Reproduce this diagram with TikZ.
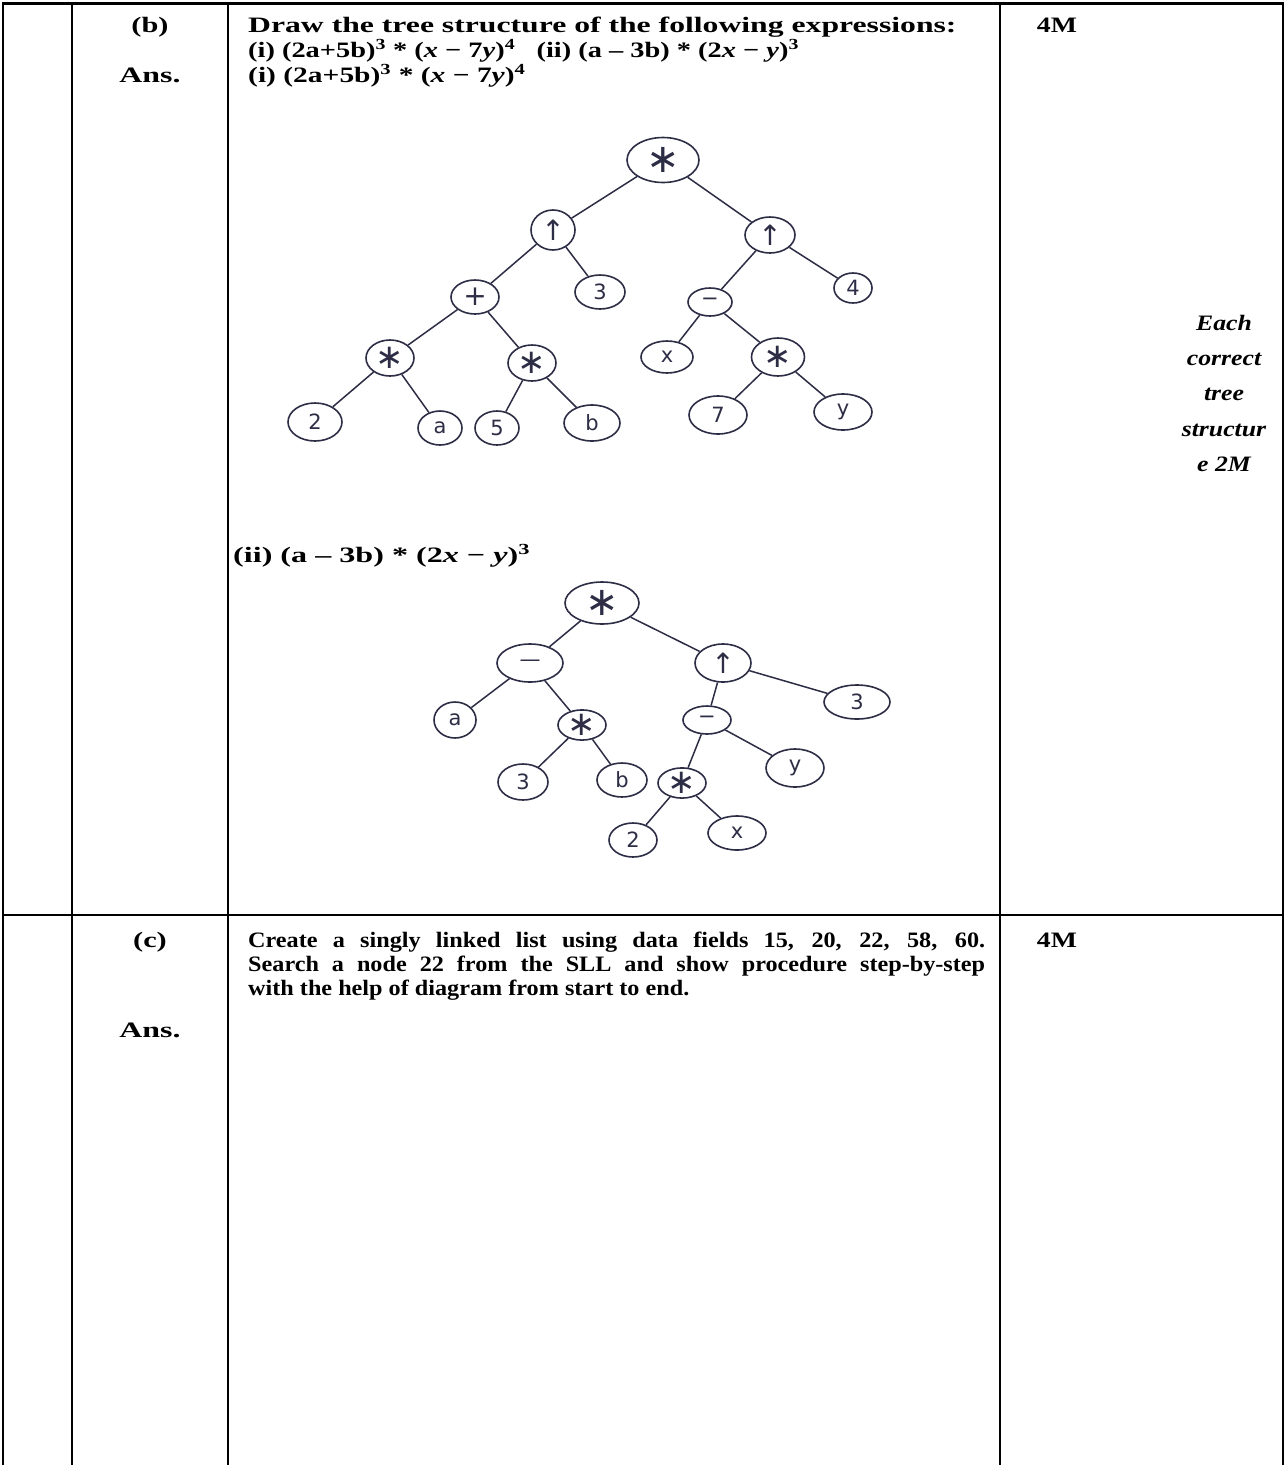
\documentclass[tikz,border=0pt]{standalone}
\usepackage{fontspec}
\usepackage{graphicx}
\setmainfont{Liberation Serif}
\newfontfamily\handfont{DejaVu Sans}
\usetikzlibrary{shapes.geometric}
\definecolor{ink}{RGB}{45,45,70}
\newcommand{\hs}[2]{\scalebox{#1}[1]{#2}}
\begin{document}
\begin{tikzpicture}[x=1pt,y=-1pt,
  tbl/.style={line width=2pt,black},
  tn/.style n args={2}{ellipse,draw=ink,line width=1.6pt,inner sep=0pt,text=ink,
     minimum width=#1pt,minimum height=#2pt,font=\handfont\fontsize{21}{21}\selectfont},
  edge/.style={ink,line width=1.5pt},
  txt/.style={anchor=base west,inner sep=0pt,font=\bfseries\fontsize{22}{22}\selectfont},
  ctxt/.style={anchor=base,inner sep=0pt,font=\bfseries\fontsize{22}{22}\selectfont},
  mtxt/.style={anchor=base,inner sep=0pt,font=\bfseries\itshape\fontsize{22}{22}\selectfont}
]
\useasboundingbox (0,0) rectangle (1285,1465);
\fill[white] (0,0) rectangle (1285,1465);
% table
\draw[line width=3pt] (2,3) -- (1284,3);
\draw[tbl] (3,2) -- (3,1465);
\draw[tbl] (72,2) -- (72,1465);
\draw[tbl] (228,2) -- (228,1465);
\draw[tbl] (1000,2) -- (1000,1465);
\draw[tbl] (1283,2) -- (1283,1465);
\draw[tbl] (3,915) -- (1283,915);

% header texts row b
\node[ctxt] (qb) at (150,32) {\hs{1.38}{(b)}};
\node[ctxt] (ansb) at (150,82) {\hs{1.45}{Ans.}};
\node[txt] (l1) at (248,32) {\hs{1.44}{Draw the tree structure of the following expressions:}};
\node[txt] (l2) at (248,57) {\hs{1.29}{(i) (2a+5b)\textsuperscript{3} * (\textit{x} − 7\textit{y})\textsuperscript{4}\hspace{0.5em} (ii) (a – 3b) * (2\textit{x} − \textit{y})\textsuperscript{3}}};
\node[txt] (l3) at (248,82) {\hs{1.34}{(i) (2a+5b)\textsuperscript{3} * (\textit{x} − 7\textit{y})\textsuperscript{4}}};
\node[ctxt] (mb) at (1057,32) {\hs{1.26}{4M}};
\node[mtxt] (e1) at (1224,330) {\hs{1.17}{Each}};
\node[mtxt] (e2) at (1224,365) {\hs{1.17}{correct}};
\node[mtxt] (e3) at (1224,400) {\hs{1.17}{tree}};
\node[mtxt] (e4) at (1224,436) {\hs{1.17}{structur}};
\node[mtxt] (e5) at (1224,471) {\hs{1.17}{e 2M}};
\node[txt] (l4) at (233,562) {\hs{1.46}{(ii) (a – 3b) * (2\textit{x} − \textit{y})\textsuperscript{3}}};

% tree 1
\node[tn={72}{45}] (r1) at (663,160) {\fontsize{40}{40}\selectfont∗};
\node[tn={44}{40}] (u1) at (553,230) {\fontsize{28}{28}\selectfont↑};
\node[tn={50}{36}] (u2) at (770,235) {\fontsize{28}{28}\selectfont↑};
\node[tn={48}{34}] (p1) at (475,297) {\fontsize{28}{28}\selectfont+};
\node[tn={50}{34}] (t1) at (600,292) {3};
\node[tn={44}{28}] (m1) at (710,302) {−};
\node[tn={38}{30}] (f1) at (853,288) {4};
\node[tn={48}{36}] (sa) at (390,358) {\fontsize{34}{34}\selectfont∗};
\node[tn={48}{36}] (sb) at (532,363) {\fontsize{34}{34}\selectfont∗};
\node[tn={52}{32}] (x1) at (667,357) {x};
\node[tn={53}{38}] (sc) at (778,357) {\fontsize{34}{34}\selectfont∗};
\node[tn={54}{38}] (n2) at (315,422) {2};
\node[tn={44}{34}] (na) at (440,428) {a};
\node[tn={44}{34}] (n5) at (497,428) {5};
\node[tn={56}{36}] (nb) at (592,423) {b};
\node[tn={58}{38}] (n7) at (718,415) {7};
\node[tn={58}{36}] (ny) at (843,412) {y};
\foreach \a/\b in {r1/u1,r1/u2,u1/p1,u1/t1,u2/m1,u2/f1,p1/sa,p1/sb,m1/x1,m1/sc,sa/n2,sa/na,sb/n5,sb/nb,sc/n7,sc/ny}
  \draw[edge] (\a) -- (\b);

% tree 2
\node[tn={74}{42}] (r2) at (602,603) {\fontsize{40}{40}\selectfont∗};
\node[tn={66}{38}] (ml) at (530,663) {—};
\node[tn={56}{38}] (ur) at (723,663) {\fontsize{28}{28}\selectfont↑};
\node[tn={42}{36}] (a2) at (455,720) {a};
\node[tn={48}{30}] (s2) at (582,725) {\fontsize{34}{34}\selectfont∗};
\node[tn={48}{28}] (mr) at (707,720) {−};
\node[tn={66}{34}] (t2) at (857,702) {3};
\node[tn={50}{36}] (th) at (523,782) {3};
\node[tn={50}{34}] (b2) at (622,780) {b};
\node[tn={48}{30}] (s3) at (682,783) {\fontsize{34}{34}\selectfont∗};
\node[tn={58}{38}] (y2) at (795,768) {y};
\node[tn={48}{34}] (tw) at (633,840) {2};
\node[tn={58}{34}] (x2) at (737,833) {x};
\foreach \a/\b in {r2/ml,r2/ur,ml/a2,ml/s2,s2/th,s2/b2,ur/mr,ur/t2,mr/s3,mr/y2,s3/tw,s3/x2}
  \draw[edge] (\a) -- (\b);

% row c
\node[ctxt] (qc) at (150,947) {\hs{1.38}{(c)}};
\node[ctxt] (ansc) at (150,1037) {\hs{1.45}{Ans.}};
\node[ctxt] (mc) at (1057,947) {\hs{1.26}{4M}};
\node[txt] (c1) at (248,947) {\hs{1.1}{\makebox[670pt][s]{Create a singly linked list using data fields 15, 20, 22, 58, 60.}}};
\node[txt] (c2) at (248,971) {\hs{1.1}{\makebox[670pt][s]{Search a node 22 from the SLL and show procedure step-by-step}}};
\node[txt] (c3) at (248,995) {\hs{1.1}{with the help of diagram from start to end.}};
\end{tikzpicture}
\end{document}
